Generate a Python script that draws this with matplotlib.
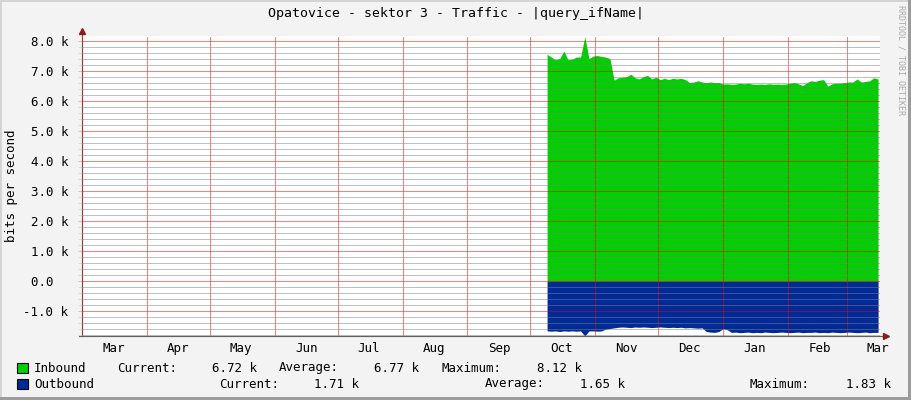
import numpy as np
import pandas as pd
import matplotlib
matplotlib.use("Agg")
import matplotlib.pyplot as plt
import matplotlib.dates as mdates
from matplotlib.ticker import MultipleLocator, NullFormatter
from matplotlib.patches import Rectangle


# =========================
# DATA
# =========================

TITLE = "Opatovice - sektor 3 - Traffic - |query_ifName|"
Y_LABEL = "bits per second"
WATERMARK = "RRDTOOL / TOBI OETIKER"

X_START = "2022-03-01"
X_END = "2023-03-16 22:00"

DATA_START = "2022-10-09"
DATA_STEP = "2D"

# kilobits per second, one sample every two days
INBOUND_K = [
    7.54, 7.45, 7.36, 7.40, 7.65, 7.36, 7.38, 7.45, 7.45, 8.12,
    7.40, 7.48, 7.50, 7.47, 7.45, 7.40, 6.68, 6.76, 6.78, 6.80,
    6.88, 6.76, 6.72, 6.80, 6.84, 6.72, 6.78, 6.70, 6.74, 6.70,
    6.74, 6.72, 6.74, 6.70, 6.60, 6.62, 6.66, 6.62, 6.60, 6.62,
    6.60, 6.60, 6.55, 6.56, 6.54, 6.55, 6.58, 6.56, 6.58, 6.55,
    6.54, 6.55, 6.54, 6.56, 6.54, 6.55, 6.54, 6.55, 6.58, 6.60,
    6.56, 6.50, 6.60, 6.66, 6.64, 6.68, 6.70, 6.48, 6.56, 6.58,
    6.58, 6.60, 6.62, 6.62, 6.72, 6.62, 6.64, 6.66, 6.76, 6.72,
]

OUTBOUND_K = [
    1.66, 1.67, 1.66, 1.68, 1.66, 1.67, 1.66, 1.67, 1.66, 1.83,
    1.66, 1.66, 1.67, 1.66, 1.60, 1.58, 1.56, 1.54, 1.53, 1.54,
    1.55, 1.53, 1.54, 1.53, 1.54, 1.55, 1.54, 1.53, 1.54, 1.55,
    1.54, 1.55, 1.54, 1.56, 1.55, 1.56, 1.57, 1.56, 1.68, 1.70,
    1.71, 1.68, 1.59, 1.62, 1.71, 1.70, 1.72, 1.71, 1.70, 1.72,
    1.71, 1.72, 1.70, 1.71, 1.72, 1.71, 1.70, 1.71, 1.72, 1.71,
    1.70, 1.72, 1.71, 1.71, 1.70, 1.72, 1.71, 1.72, 1.70, 1.71,
    1.72, 1.71, 1.70, 1.71, 1.72, 1.71, 1.70, 1.72, 1.71, 1.71,
]

Y_TICKS_K = [-1, 0, 1, 2, 3, 4, 5, 6, 7, 8]

INBOUND_STATS = ["6.72 k", "6.77 k", "8.12 k"]
OUTBOUND_STATS = ["1.71 k", "1.65 k", "1.83 k"]


# =========================
# STYLE
# =========================

W, H = 911, 400
BACK = "#F3F3F3"
GREEN = "#00CF00"
BLUE = "#002A97"
MGRID = (1.0, 0.0, 0.0, 0.26)
GRID = (0.5, 0.5, 0.5, 0.22)
AXIS = "#606060"
ARROW = "#8B1C1C"
MONO = "DejaVu Sans Mono"


def px(x, y):
    # pixel position (from top-left) -> figure fraction
    return x / W, 1 - y / H


def ytick_label(v):
    if v == 0:
        return "0.0\u00a0\u00a0"
    return f"{v:.1f} k"


def make_plot():

    plt.rcParams["font.family"] = [MONO, "DejaVu Sans"]

    fig = plt.figure(figsize=(W / 100, H / 100), dpi=100, facecolor=BACK)

    ax = fig.add_axes([82 / W, 1 - 336 / H, 798 / W, 300 / H])
    ax.set_facecolor("white")
    ax.set_axisbelow(False)

    dates = pd.date_range(DATA_START, periods=len(INBOUND_K), freq=DATA_STEP)
    inbound = np.array(INBOUND_K) * 1000
    outbound = -np.array(OUTBOUND_K) * 1000

    ax.fill_between(dates, 0, inbound, color=GREEN, lw=0, zorder=1)
    ax.fill_between(dates, 0, outbound, color=BLUE, lw=0, zorder=1)

    ax.set_xlim(pd.Timestamp(X_START), pd.Timestamp(X_END))
    ax.set_ylim(-1830, 8150)

    # x axis: grid on month starts, labels mid month
    ax.xaxis.set_major_locator(mdates.MonthLocator())
    ax.xaxis.set_major_formatter(NullFormatter())
    ax.xaxis.set_minor_locator(mdates.MonthLocator(bymonthday=16))
    ax.xaxis.set_minor_formatter(mdates.DateFormatter("%b"))
    ax.tick_params(axis="x", which="both", length=0, pad=4,
                   labelsize=9, labelcolor="black")

    # y axis
    ax.set_yticks([v * 1000 for v in Y_TICKS_K])
    ax.set_yticklabels([ytick_label(v) for v in Y_TICKS_K])
    ax.yaxis.set_minor_locator(MultipleLocator(200))
    ax.tick_params(axis="y", which="major", length=3, width=0.7,
                   color=MGRID, pad=7, labelsize=9, labelcolor="black")
    ax.tick_params(axis="y", which="minor", length=3, width=0.7, color=GRID)

    dots = (0, (1, 1))
    ax.grid(axis="y", which="minor", color=GRID, lw=0.72, ls=dots)
    ax.grid(axis="y", which="major", color=MGRID, lw=0.72, ls=dots)
    ax.grid(axis="x", which="major", color=MGRID, lw=0.72, ls=dots)

    for side in ["top", "right"]:
        ax.spines[side].set_visible(False)
    for side in ["left", "bottom"]:
        ax.spines[side].set_color(AXIS)
        ax.spines[side].set_linewidth(0.8)

    # axis extensions with arrow heads
    ax.plot([0, 0], [1, 1.015], transform=ax.transAxes, color=AXIS,
            lw=0.8, clip_on=False)
    ax.plot([1, 1.006], [0, 0], transform=ax.transAxes, color=AXIS,
            lw=0.8, clip_on=False)
    ax.plot([-0.004, 0], [0, 0], transform=ax.transAxes, color=AXIS,
            lw=0.8, clip_on=False)
    ax.plot([0], [1.017], transform=ax.transAxes, marker="^", ms=4,
            color=ARROW, clip_on=False)
    ax.plot([1.007], [0], transform=ax.transAxes, marker=">", ms=4,
            color=ARROW, clip_on=False)

    # title / labels
    fig.text(*px(455.5, 14), TITLE, ha="center", va="center",
             fontsize=9.5, color="black")
    fig.text(*px(12, 186), Y_LABEL, ha="center", va="center",
             rotation=90, fontsize=9, color="black")
    fig.text(*px(901, 60), WATERMARK, ha="center", va="center",
             rotation=270, fontsize=6, color="#A8A8A8")

    # legend
    rows = [
        ("Inbound", GREEN, 368, INBOUND_STATS,
         [(117, 212), (279, 374), (441, 537)]),
        ("Outbound", BLUE, 384, OUTBOUND_STATS,
         [(219, 314), (485, 580), (750, 846)]),
    ]
    names = ["Current:", "Average:", "Maximum:"]
    for label, color, y, stats, spots in rows:
        fig.patches.append(Rectangle(px(17, y + 5), 11 / W, 10 / H,
                                     transform=fig.transFigure,
                                     fc=color, ec="black", lw=0.8))
        fig.text(*px(34, y), label, ha="left", va="center", fontsize=9)
        for name, value, (xn, xv) in zip(names, stats, spots):
            fig.text(*px(xn, y), name, ha="left", va="center", fontsize=9)
            fig.text(*px(xv, y), value, ha="left", va="center", fontsize=9)

    # frame around the image
    frame = [
        ((0, 0), 2, H, "#D4D4D4"),
        ((0, H - 2), W, 2, "#D4D4D4"),
        ((W - 3, 0), 3, H, "#9C9C9C"),
        ((0, 0), W, 3, "#9C9C9C"),
    ]
    for (x0, y0), w, h, c in frame:
        fig.patches.append(Rectangle((x0 / W, y0 / H), w / W, h / H,
                                     transform=fig.transFigure,
                                     fc=c, ec="none"))

    fig.savefig("out.png", dpi=100, facecolor=BACK)
    plt.close(fig)


if __name__ == "__main__":

    make_plot()
